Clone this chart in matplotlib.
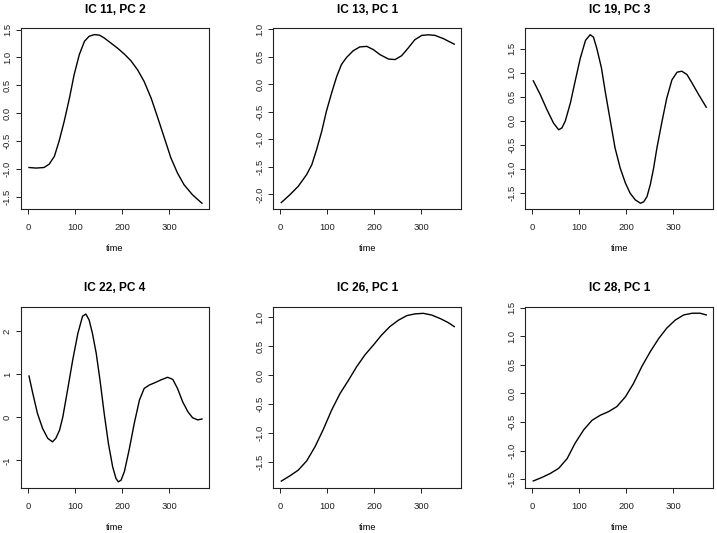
import matplotlib
matplotlib.use("Agg")
import matplotlib.pyplot as plt

plt.rcParams['font.family'] = ['Liberation Sans', 'DejaVu Sans']

titles = ["IC 11, PC 2", "IC 13, PC 1", "IC 19, PC 3",
          "IC 22, PC 4", "IC 26, PC 1", "IC 28, PC 1"]

t1 = [2, 17, 34, 45, 56, 66, 77, 88, 98, 109, 120, 130, 141, 152, 162, 176, 190,
      205, 219, 233, 247, 262, 276, 290, 304, 318, 332, 350, 370]
y1 = [-0.97, -0.98, -0.97, -0.91, -0.77, -0.50, -0.14, 0.27, 0.69, 1.05, 1.29, 1.38,
      1.41, 1.40, 1.35, 1.26, 1.17, 1.06, 0.94, 0.78, 0.57, 0.27, -0.08, -0.44,
      -0.80, -1.07, -1.28, -1.46, -1.61]

t2 = [2, 20, 38, 56, 67, 77, 88, 98, 109, 120, 130, 141, 155, 169, 184, 198, 212,
      230, 244, 258, 272, 286, 301, 315, 329, 347, 370]
y2 = [-2.15, -2.01, -1.855, -1.64, -1.46, -1.19, -0.855, -0.49, -0.16, 0.145, 0.36,
      0.49, 0.61, 0.68, 0.69, 0.63, 0.54, 0.46, 0.45, 0.52, 0.66, 0.81, 0.89, 0.90,
      0.89, 0.83, 0.73]

t3 = [2, 17, 31, 45, 56, 63, 70, 81, 91, 102, 113, 123, 130, 137, 147, 155, 166, 176,
      187, 198, 208, 219, 230, 237, 244, 251, 258, 265, 276, 286, 297, 308, 318, 329,
      340, 354, 370]
y3 = [0.83, 0.54, 0.23, -0.05, -0.19, -0.15, -0.01, 0.37, 0.82, 1.30, 1.67, 1.79,
      1.74, 1.51, 1.10, 0.61, -0.01, -0.57, -0.99, -1.30, -1.51, -1.65, -1.72, -1.69,
      -1.58, -1.33, -0.99, -0.57, -0.01, 0.47, 0.85, 1.01, 1.03, 0.96, 0.78, 0.54, 0.28]

t4 = [2, 10, 20, 31, 42, 52, 59, 67, 74, 84, 95, 106, 116, 123, 130, 137, 145, 153,
      162, 171, 180, 187, 192, 198, 205, 215, 226, 237, 247, 258, 269, 283, 297, 308,
      318, 329, 340, 350, 361, 370]
y4 = [0.96, 0.56, 0.09, -0.26, -0.49, -0.57, -0.49, -0.30, 0.01, 0.63, 1.33, 1.95,
      2.35, 2.40, 2.26, 1.95, 1.49, 0.87, 0.09, -0.61, -1.15, -1.42, -1.50, -1.46,
      -1.26, -0.76, -0.14, 0.40, 0.67, 0.75, 0.80, 0.87, 0.93, 0.88, 0.67, 0.36, 0.13,
      -0.01, -0.06, -0.04]

t5 = [2, 20, 38, 56, 74, 91, 109, 127, 145, 162, 180, 198, 215, 233, 251, 269, 286,
      304, 322, 340, 357, 370]
y5 = [-1.84, -1.75, -1.65, -1.49, -1.24, -0.95, -0.61, -0.32, -0.09, 0.14, 0.35,
      0.52, 0.69, 0.84, 0.95, 1.03, 1.06, 1.07, 1.04, 0.98, 0.91, 0.84]

t6 = [2, 20, 38, 56, 74, 91, 109, 127, 145, 162, 180, 198, 215, 233, 251, 269, 286,
      304, 322, 340, 357, 370]
y6 = [-1.53, -1.47, -1.40, -1.31, -1.14, -0.87, -0.64, -0.47, -0.38, -0.32, -0.23,
      -0.06, 0.17, 0.47, 0.73, 0.96, 1.14, 1.28, 1.37, 1.40, 1.40, 1.37]

xticks = [0, 100, 200, 300]
yticks = [
    [-1.5, -1.0, -0.5, 0.0, 0.5, 1.0, 1.5],
    [-2.0, -1.5, -1.0, -0.5, 0.0, 0.5, 1.0],
    [-1.5, -1.0, -0.5, 0.0, 0.5, 1.0, 1.5],
    [-1, 0, 1, 2],
    [-1.5, -1.0, -0.5, 0.0, 0.5, 1.0],
    [-1.5, -1.0, -0.5, 0.0, 0.5, 1.0, 1.5],
]
ylims = [(-1.713, 1.528), (-2.267, 1.024), (-1.84, 1.93),
         (-1.636, 2.57), (-1.954, 1.185), (-1.648, 1.514)]

series = [(t1, y1), (t2, y2), (t3, y3), (t4, y4), (t5, y5), (t6, y6)]

W, H = 717, 533
fig = plt.figure(figsize=(W / 100, H / 100), dpi=100)
lefts = [21, 273.3, 525.3]
tops = [28, 306.7]
bw, bh = 188, 181

for i, (tt, yy) in enumerate(series):
    r, c = divmod(i, 3)
    ax = fig.add_axes([lefts[c] / W, 1 - (tops[r] + bh) / H, bw / W, bh / H])
    ax.plot(tt, yy, color='black', lw=1.0, solid_joinstyle='round')
    ax.set_xlim(-15, 385)
    ax.set_ylim(*ylims[i])
    ax.set_xticks(xticks)
    ax.set_xticklabels([str(v) for v in xticks])
    yt = yticks[i]
    ax.set_yticks(yt)
    if i == 3:
        ax.set_yticklabels([str(v) for v in yt])
    else:
        ax.set_yticklabels([f"{v:.1f}" for v in yt])
    for lab in ax.get_yticklabels():
        lab.set_rotation(90)
        lab.set_va('center')
    ax.tick_params(direction='out', length=3.5, width=0.7, labelsize=6.8,
                   colors='#222222')
    ax.tick_params(axis='x', pad=6.5)
    ax.tick_params(axis='y', pad=3)
    for s in ax.spines.values():
        s.set_linewidth(0.8)
        s.set_color('#222222')
    ax.set_title(titles[i], fontsize=8.6, fontweight='bold', pad=11)
    ax.set_xlabel('time', fontsize=6.6, labelpad=9)

fig.savefig('out.png', dpi=100)
